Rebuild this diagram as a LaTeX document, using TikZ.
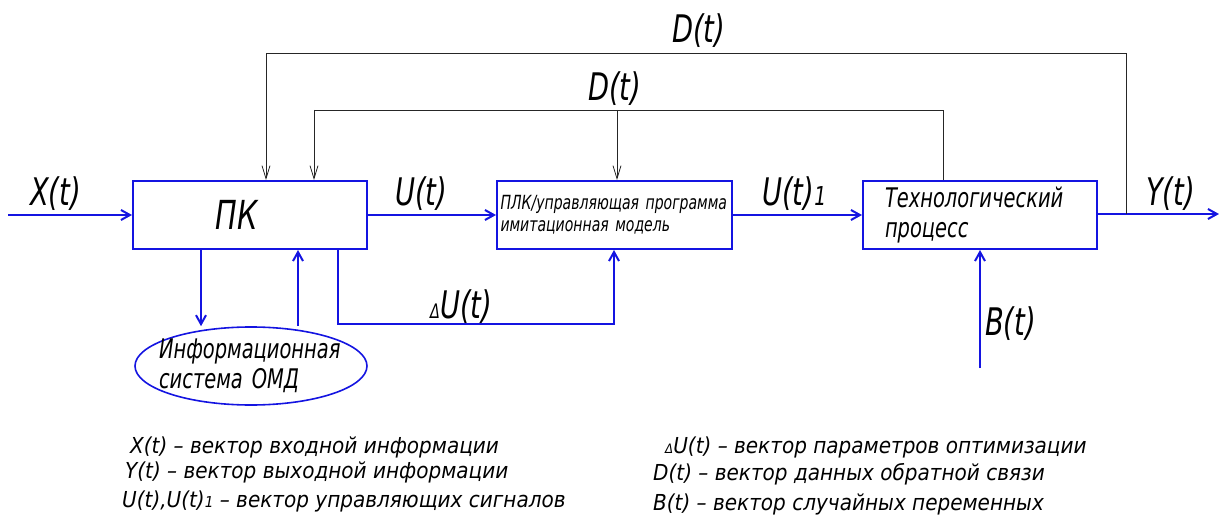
\documentclass[tikz,border=0pt]{standalone}
\usepackage{fontspec}
\setmainfont{DejaVu Sans}[FakeStretch=0.72]
\newfontfamily\legfont{DejaVu Sans}[FakeStretch=0.91]
\usetikzlibrary{arrows.meta,shapes.geometric}
\definecolor{lineblue}{RGB}{20,20,225}
\tikzset{
  blk/.style={draw=lineblue, line width=2pt, rectangle, minimum width=234pt,
              minimum height=68pt, inner sep=3pt, align=left},
  sig/.style={draw=lineblue, line width=2pt},
  sigarrow/.style={sig, -{Straight Barb[length=9pt,width=10pt,line width=2pt]}},
  fb/.style={draw=black!85, line width=0.8pt},
  fbarrow/.style={fb, -{Straight Barb[length=13pt,width=8pt]}},
  big/.style={font=\fontsize{38}{40}\selectfont\itshape, anchor=base west, inner sep=0pt},
  leg/.style={font=\legfont\fontsize{22}{24}\selectfont\itshape, anchor=base west, inner sep=0pt},
}
\begin{document}
\begin{tikzpicture}[x=1pt,y=-1pt]
\useasboundingbox (0,0) rectangle (1219,524);

% blocks
\node[blk, font=\fontsize{40}{42}\selectfont\itshape] (pk) at (250,215) {ПК\kern 26pt};
\node[blk, minimum width=235pt, text width=228pt,
      font=\fontsize{19.5}{22}\selectfont\itshape] (plc) at (614.5,215)
  {ПЛК/управляющая программа\\имитационная модель};
\node[blk, text width=190pt, font=\fontsize{27}{30}\selectfont\itshape] (tp) at (980,215)
  {Технологический\\процесс};
\node[ellipse, draw=lineblue, line width=1.6pt, minimum width=232pt, minimum height=78pt,
      inner xsep=-50pt, inner ysep=-12pt, text width=184pt, align=left,
      font=\fontsize{27}{30}\selectfont\itshape] (ois) at (251,366)
  {Информационная\\система ОМД};

% free ends of the input and output lines
\coordinate (xin) at (8,215);
\coordinate (yout) at (1219,214);
\coordinate (bin) at (980,368);
\coordinate (jY) at (1126,214);
\coordinate (d1) at (266,53);
\coordinate (d2) at (314,110);
\coordinate (d3) at (617,110);
\coordinate (d4) at (943,110);
\coordinate (du) at (338,324);

% main signal path
\draw[sigarrow] (xin) -- (pk.west);
\draw[sigarrow] (pk.east) -- (plc.west);
\draw[sigarrow] (plc.east) -- (tp.west);
\draw[sigarrow] (tp.east |- jY) -- (yout);
\draw[sigarrow] (bin) -- (tp.south);

% links to the information system
\draw[sigarrow] (pk.south -| 201,0) -- (201,0 |- ois.north);
\draw[sigarrow] (298,0 |- ois.north) -- (pk.south -| 298,0);

% optimisation parameters
\draw[sigarrow] (du |- pk.south) -- (du) -| (plc.south -| 614,0);

% feedback lines
\draw[fbarrow] (jY) |- (d1) -- (d1 |- pk.north);
\draw[fb] (d4 |- tp.north) -- (d4) -- (d2);
\draw[fbarrow] (d2) -- (d2 |- pk.north);
\draw[fbarrow] (d3) -- (d3 |- plc.north);

% signal labels
\node[big] (lx) at (30,205) {X(t)};
\node[big] (lu) at (395,205) {U(t)};
\node[big] (lu1) at (762,205) {U(t)\fontsize{26}{28}\selectfont 1};
\node[big] (ly) at (1146,205) {Y(t)};
\node[big] (ld1) at (672,43) {D(t)};
\node[big] (ld2) at (588,101) {D(t)};
\node[big] (ldu) at (430,318) {\fontsize{20}{22}\selectfont Δ\fontsize{38}{40}\selectfont U(t)};
\node[big] (lb) at (985,335) {B(t)};

% legend
\node[leg] (g1) at (130,453) {X(t) – вектор входной информации};
\node[leg] (g2) at (125,478) {Y(t) – вектор выходной информации};
\node[leg] (g3) at (122,507) {U(t),U(t)\fontsize{15}{17}\selectfont 1\fontsize{22}{24}\selectfont{} – вектор управляющих сигналов};
\node[leg] (g4) at (665,453) {\fontsize{13}{15}\selectfont Δ\fontsize{22}{24}\selectfont U(t) – вектор параметров оптимизации};
\node[leg] (g5) at (653,480) {D(t) – вектор данных обратной связи};
\node[leg] (g6) at (653,510) {B(t) – вектор случайных переменных};
\end{tikzpicture}
\end{document}
